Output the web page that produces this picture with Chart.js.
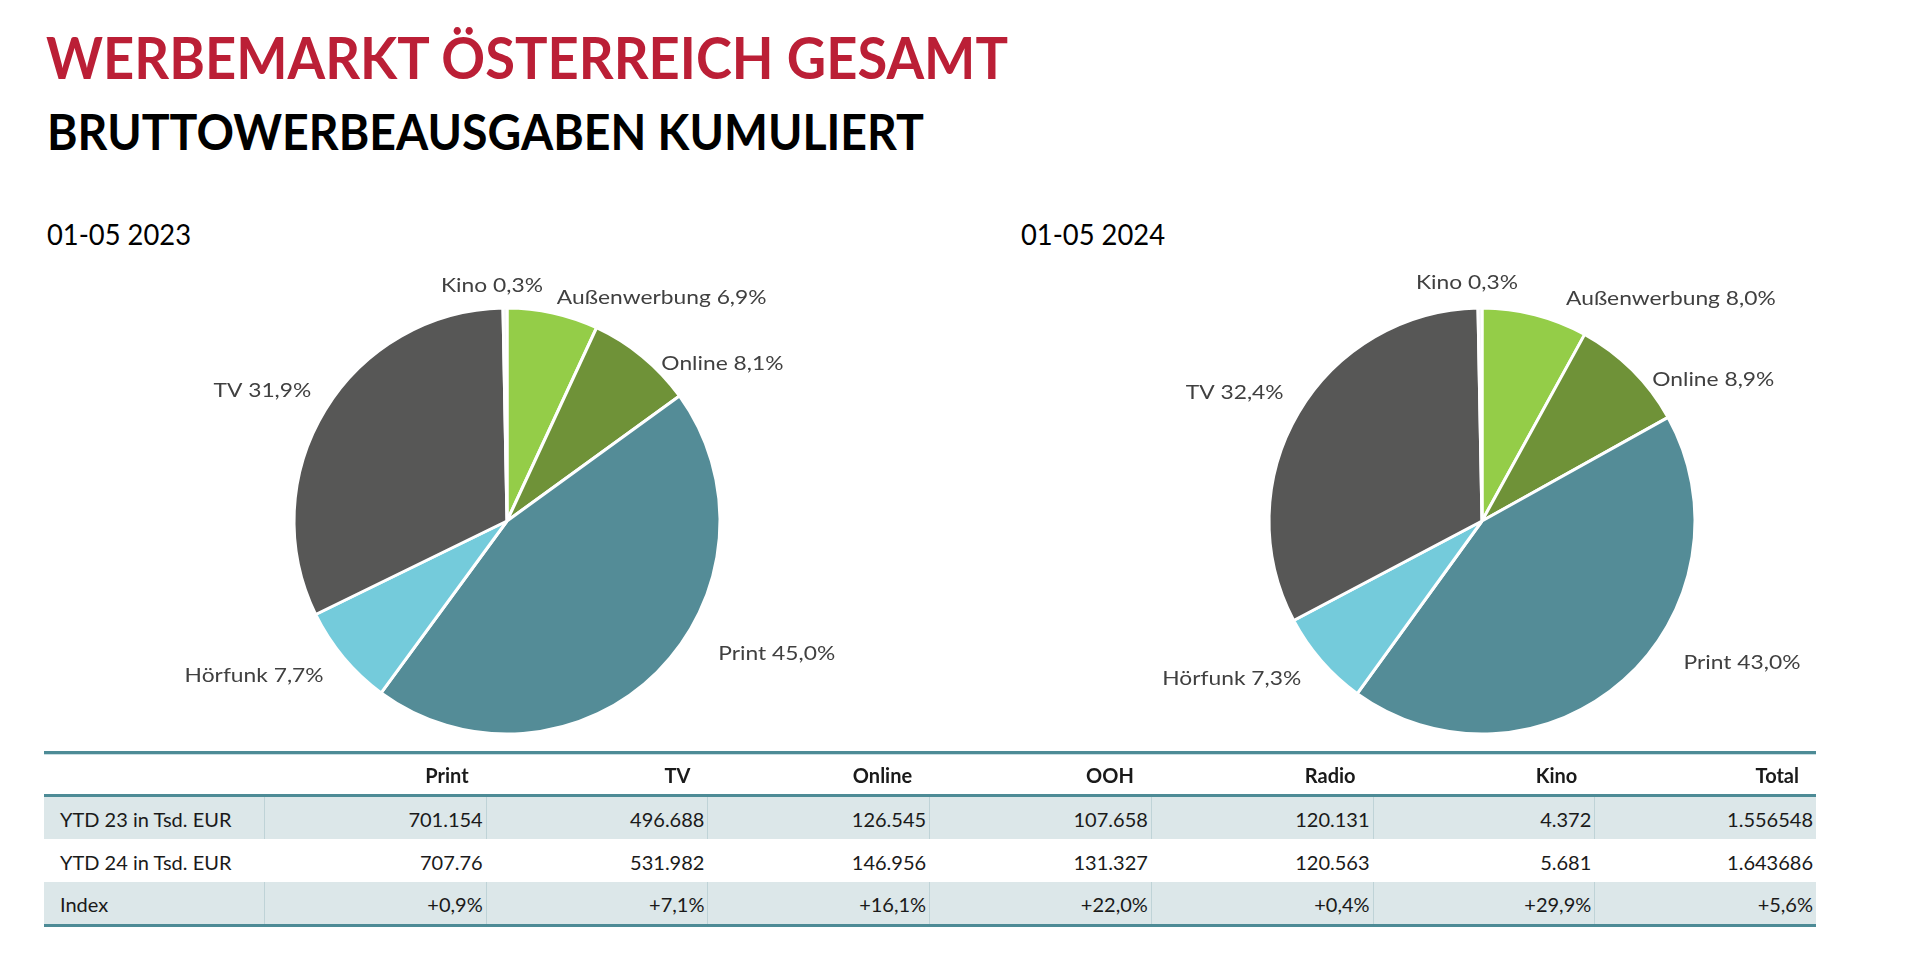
<!DOCTYPE html>
<html>
<head>
<meta charset="utf-8">
<title>Werbemarkt Österreich gesamt</title>
<script src="https://cdn.jsdelivr.net/npm/chart.js@4.4.1/dist/chart.umd.min.js"></script>
<style>
html,body{margin:0;padding:0;background:#fff;width:1920px;height:962px;overflow:hidden;font-family:Lato,"Noto Sans",sans-serif;}
.t{position:absolute;white-space:nowrap;line-height:1;transform-origin:0 0;}
#title{left:46px;font-size:57px;font-weight:700;color:#bb1f36;}
#subtitle{left:46px;font-size:49px;font-weight:700;color:#000;}
.period{font-size:29px;font-weight:400;color:#000;}
canvas.pie{position:absolute;}
#table{position:absolute;left:0;top:0;}
.band{position:absolute;}
.cell{position:absolute;white-space:nowrap;line-height:1;font-size:20px;color:#1a1a1a;}
.hd{font-weight:700;}
</style>
</head>
<body>
<div id="title" class="t">WERBEMARKT ÖSTERREICH GESAMT</div>
<div id="subtitle" class="t">BRUTTOWERBEAUSGABEN KUMULIERT</div>
<div id="p1" class="t period">01-05 2023</div>
<div id="p2" class="t period">01-05 2024</div>
<canvas id="pie1" class="pie" width="760" height="520"></canvas>
<canvas id="pie2" class="pie" width="760" height="520"></canvas>
<div id="table"></div>
<script>
// ---------- data ----------
const categories = ['Außenwerbung', 'Online', 'Print', 'Hörfunk', 'TV', 'Kino'];
const share2023 = [6.9, 8.1, 45.0, 7.7, 31.9, 0.3];
const share2024 = [8.0, 8.9, 43.0, 7.3, 32.4, 0.3];
const periods = ['01-05 2023', '01-05 2024'];

const tableColumns = ['Print', 'TV', 'Online', 'OOH', 'Radio', 'Kino', 'Total'];
const rowLabels = ['YTD 23 in Tsd. EUR', 'YTD 24 in Tsd. EUR', 'Index'];
const ytd23 = ['701.154', '496.688', '126.545', '107.658', '120.131', '4.372', '1.556548'];
const ytd24 = ['707.76', '531.982', '146.956', '131.327', '120.563', '5.681', '1.643686'];
const indexChange = ['+0,9%', '+7,1%', '+16,1%', '+22,0%', '+0,4%', '+29,9%', '+5,6%'];

// ---------- styles ----------
const sliceColors = ['#94cd48', '#6f9238', '#548c97', '#74cbdb', '#575756', '#eef0f0'];

// ---------- text placement ----------
function placeText(id, left, baseline, targetWidth) {
  const el = document.getElementById(id);
  const fs = parseFloat(getComputedStyle(el).fontSize);
  el.style.left = left + 'px';
  el.style.top = (baseline - 0.887 * fs) + 'px';
  if (targetWidth) {
    const w = el.getBoundingClientRect().width;
    el.style.transform = 'scaleX(' + (targetWidth / w) + ')';
  }
}
document.getElementById('p1').textContent = periods[0];
document.getElementById('p2').textContent = periods[1];
placeText('title', 46, 80, 962);
placeText('subtitle', 47, 150, 877);
placeText('p1', 47, 245, 144);
placeText('p2', 1021, 245, 144);

// ---------- pie label plugin ----------
const fmtPct = v => v.toFixed(1).replace('.', ',') + '%';
const sliceLabels = {
  id: 'sliceLabels',
  afterDatasetsDraw(chart, args, opts) {
    const ctx = chart.ctx;
    const meta = chart.getDatasetMeta(0);
    const values = chart.data.datasets[0].data;
    meta.data.forEach((arc, i) => {
      const p = arc.getProps(['x', 'y', 'startAngle', 'endAngle', 'outerRadius'], true);
      const mid = (p.startAngle + p.endAngle) / 2;
      const ax = p.x + Math.cos(mid) * p.outerRadius;
      const ay = p.y + Math.sin(mid) * p.outerRadius;
      const c = Math.cos(mid);
      const off = opts.offsets[i];
      ctx.save();
      ctx.font = opts.font;
      ctx.fillStyle = opts.color;
      ctx.textBaseline = 'middle';
      ctx.textAlign = Math.abs(c) < 0.1 ? 'center' : (c > 0 ? 'left' : 'right');
      ctx.translate(ax + off[0], ay + off[1]);
      ctx.scale(opts.stretch, 1);
      ctx.fillText(chart.data.labels[i] + ' ' + fmtPct(values[i]), 0, 0);
      ctx.restore();
    });
  }
};

function makePie(id, values, offsets) {
  return new Chart(document.getElementById(id), {
    type: 'pie',
    data: {
      labels: categories,
      datasets: [{
        data: values,
        backgroundColor: sliceColors,
        borderColor: '#ffffff',
        borderWidth: 3,
        radius: 213
      }]
    },
    options: {
      responsive: false,
      animation: false,
      events: [],
      layout: { padding: 0 },
      plugins: {
        legend: { display: false },
        tooltip: { enabled: false },
        sliceLabels: { font: '20px Lato, "Noto Sans", sans-serif', color: '#404040', stretch: 1.14, offsets: offsets }
      }
    },
    plugins: [sliceLabels]
  });
}

const c1 = document.getElementById('pie1');
c1.style.left = (507 - 380) + 'px';
c1.style.top = (521 - 260) + 'px';
const c2 = document.getElementById('pie2');
c2.style.left = (1482 - 380) + 'px';
c2.style.top = (521 - 260) + 'px';

makePie('pie1', share2023, [[4, -15], [19, 7], [61, -18], [-20, 18], [-14, -19], [-13, -22]]);
makePie('pie2', share2024, [[31, -16], [20, 10], [60, -18], [-20, 18], [-15, -20], [-13, -25]]);

// ---------- table ----------
const tbl = document.getElementById('table');
const colEdges = [44, 264];
for (let i = 1; i <= tableColumns.length; i++) colEdges.push(264 + i * (1816 - 264) / tableColumns.length);
const rowBands = [[797, 839, '#dce7e9'], [839, 882, '#ffffff'], [882, 924, '#dce7e9']];
const rowCenters = [819, 862, 904];
function addBand(x, y, w, h, color) {
  const d = document.createElement('div');
  d.className = 'band';
  d.style.cssText = `left:${x}px;top:${y}px;width:${w}px;height:${h}px;background:${color};`;
  tbl.appendChild(d);
}
function addCell(text, x, centerY, align, cls) {
  const d = document.createElement('div');
  d.className = 'cell' + (cls ? ' ' + cls : '');
  d.textContent = text;
  tbl.appendChild(d);
  const fs = 20;
  d.style.top = (centerY - 0.5 * fs) + 'px';
  if (align === 'left') d.style.left = x + 'px';
  else d.style.left = (x - d.getBoundingClientRect().width) + 'px';
}
rowBands.forEach(([y0, y1, col]) => {
  addBand(44, y0, 1772, y1 - y0, col);
  if (col !== '#ffffff') {
    for (let i = 1; i < colEdges.length - 1; i++) addBand(Math.round(colEdges[i]), y0, 1, y1 - y0, '#bfd3d7');
  }
});
addBand(44, 751, 1772, 3, '#4d8b96');
addBand(44, 754, 1772, 1, '#c9dde1');
addBand(44, 794, 1772, 3, '#4d8b96');
addBand(44, 924, 1772, 3, '#4d8b96');

tableColumns.forEach((h, i) => addCell(h, colEdges[i + 2] - 17, 775, 'right', 'hd'));
const rows = [ytd23, ytd24, indexChange];
rows.forEach((r, ri) => {
  addCell(rowLabels[ri], 60, rowCenters[ri], 'left');
  r.forEach((v, i) => addCell(v, colEdges[i + 2] - 3, rowCenters[ri], 'right'));
});
</script>
</body>
</html>
